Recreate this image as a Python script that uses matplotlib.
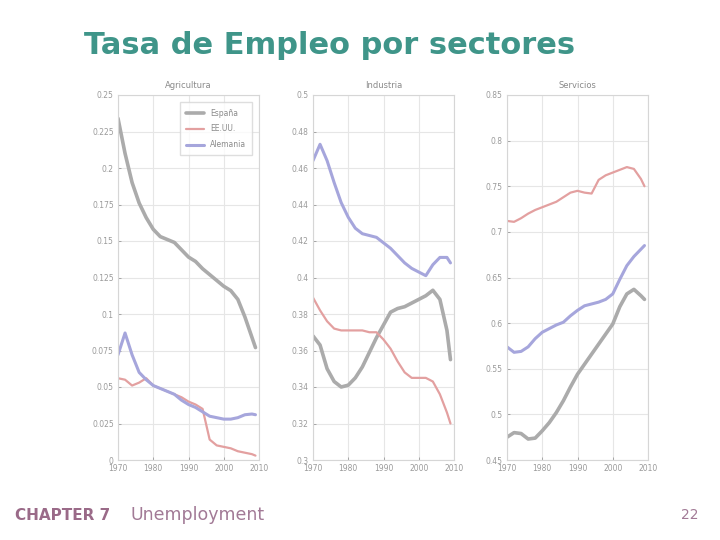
import matplotlib
matplotlib.use("Agg")
import matplotlib.pyplot as plt
import numpy as np

# ---------------- data ----------------
years = [1970, 1972, 1974, 1976, 1978, 1980, 1982, 1984, 1986, 1988, 1990,
         1992, 1994, 1996, 1998, 2000, 2002, 2004, 2006, 2008, 2009]

series_names = ["España", "EE.UU.", "Alemania"]
sector_titles = ["Agricultura", "Industria", "Servicios"]

agri_es = [0.234, 0.210, 0.190, 0.176, 0.166, 0.158, 0.153, 0.151, 0.149, 0.144, 0.139,
           0.136, 0.131, 0.127, 0.123, 0.119, 0.116, 0.110, 0.098, 0.084, 0.077]
agri_us = [0.056, 0.055, 0.051, 0.053, 0.056, 0.051, 0.049, 0.047, 0.045, 0.043, 0.040,
           0.038, 0.035, 0.014, 0.010, 0.009, 0.008, 0.006, 0.005, 0.004, 0.003]
agri_de = [0.072, 0.087, 0.072, 0.060, 0.055, 0.051, 0.049, 0.047, 0.045, 0.041, 0.038,
           0.036, 0.033, 0.030, 0.029, 0.028, 0.028, 0.029, 0.031, 0.0315, 0.031]

ind_es = [0.368, 0.363, 0.350, 0.343, 0.340, 0.341, 0.345, 0.351, 0.359, 0.367, 0.374,
          0.381, 0.383, 0.384, 0.386, 0.388, 0.390, 0.393, 0.388, 0.371, 0.355]
ind_us = [0.389, 0.382, 0.376, 0.372, 0.371, 0.371, 0.371, 0.371, 0.370, 0.370, 0.366,
          0.361, 0.354, 0.348, 0.345, 0.345, 0.345, 0.343, 0.336, 0.326, 0.320]
ind_de = [0.464, 0.473, 0.464, 0.452, 0.441, 0.433, 0.427, 0.424, 0.423, 0.422, 0.419,
          0.416, 0.412, 0.408, 0.405, 0.403, 0.401, 0.407, 0.411, 0.411, 0.408]

serv_es = [0.475, 0.480, 0.479, 0.473, 0.474, 0.482, 0.491, 0.502, 0.515, 0.530, 0.544,
           0.555, 0.566, 0.577, 0.588, 0.599, 0.618, 0.632, 0.637, 0.630, 0.626]
serv_us = [0.712, 0.711, 0.715, 0.720, 0.724, 0.727, 0.730, 0.733, 0.738, 0.743, 0.745,
           0.743, 0.742, 0.757, 0.762, 0.765, 0.768, 0.771, 0.769, 0.758, 0.750]
serv_de = [0.574, 0.568, 0.569, 0.574, 0.583, 0.590, 0.594, 0.598, 0.601, 0.608, 0.614,
           0.619, 0.621, 0.623, 0.626, 0.632, 0.648, 0.663, 0.673, 0.681, 0.685]

x_ticks = [1970, 1980, 1990, 2000, 2010]
y_ticks_agri = [0, 0.025, 0.05, 0.075, 0.1, 0.125, 0.15, 0.175, 0.2, 0.225, 0.25]
y_ticks_ind = [0.3, 0.32, 0.34, 0.36, 0.38, 0.4, 0.42, 0.44, 0.46, 0.48, 0.5]
y_ticks_serv = [0.45, 0.5, 0.55, 0.6, 0.65, 0.7, 0.75, 0.8, 0.85]

# ---------------- style ----------------
colors = ["#ababab", "#e3a0a0", "#a6a6dc"]
widths = [2.6, 1.6, 2.2]
W, H = 720, 540

fig = plt.figure(figsize=(7.2, 5.4), dpi=100)

fig.text(84 / W, 1 - 45 / H, "Tasa de Empleo por sectores", fontsize=22,
         fontweight="bold", color="#3f9589", va="center", ha="left")

panels = [
    (118, [agri_es, agri_us, agri_de], y_ticks_agri),
    (313, [ind_es, ind_us, ind_de], y_ticks_ind),
    (507, [serv_es, serv_us, serv_de], y_ticks_serv),
]
ax_w, top, bottom = 141, 95, 460

for i, (left, data, yt) in enumerate(panels):
    ax = fig.add_axes([left / W, 1 - bottom / H, ax_w / W, (bottom - top) / H])
    for s, (vals, name) in enumerate(zip(data, series_names)):
        ax.plot(years, vals, color=colors[s], lw=widths[s], label=name,
                solid_capstyle="round", solid_joinstyle="round")
    ax.set_xlim(x_ticks[0], x_ticks[-1])
    ax.set_ylim(yt[0], yt[-1])
    ax.set_xticks(x_ticks)
    ax.set_yticks(yt)
    ax.set_yticklabels(["%g" % v for v in yt])
    ax.grid(True, color="#e6e6e6", lw=0.8)
    ax.tick_params(labelsize=5.5, colors="#9a9a9a", length=2, width=0.6,
                   direction="in", pad=3)
    for sp in ax.spines.values():
        sp.set_color("#d6d6d6")
        sp.set_linewidth(0.8)
    ax.set_title(sector_titles[i], fontsize=6, color="#8a8a8a", pad=5)
    if i == 0:
        leg = ax.legend(loc="upper right", fontsize=5.5, frameon=True,
                        fancybox=False, edgecolor="#d6d6d6",
                        borderpad=0.8, handlelength=2.4, labelspacing=0.9,
                        bbox_to_anchor=(0.98, 0.99))
        for t in leg.get_texts():
            t.set_color("#8a8a8a")

fig.text(15 / W, 1 - 515 / H, "CHAPTER 7", fontsize=11, fontweight="bold",
         color="#9a6a88", va="center", ha="left")
fig.text(130 / W, 1 - 515 / H, "Unemployment", fontsize=12.5,
         color="#a27a96", va="center", ha="left")
fig.text(698 / W, 1 - 515 / H, "22", fontsize=10,
         color="#a27a96", va="center", ha="right")

fig.savefig("out.png", dpi=100, facecolor="white")
